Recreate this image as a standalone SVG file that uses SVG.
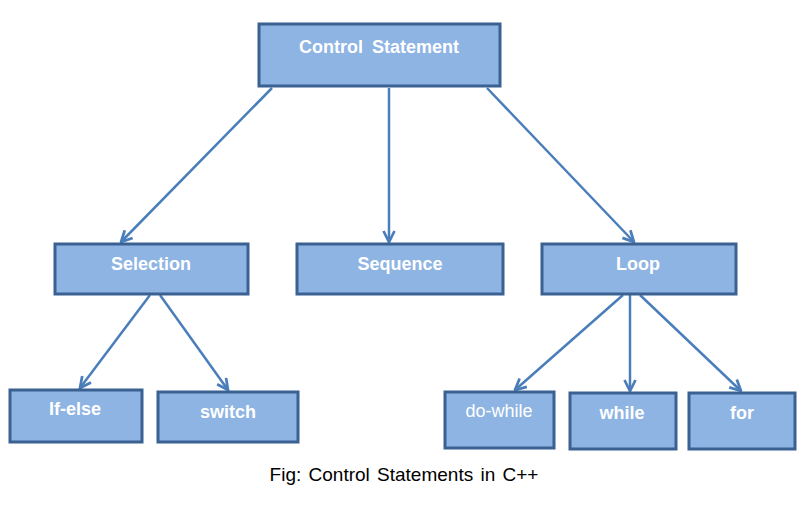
<svg xmlns="http://www.w3.org/2000/svg" width="807" height="505" viewBox="0 0 807 505">
<defs>
<style>
.box{fill:#8EB4E3;stroke:#3B6192;stroke-width:3;}
.t{font-family:"Liberation Sans",Arial,sans-serif;font-size:18px;font-weight:bold;fill:#FFFFFF;text-anchor:middle;}
.tn{font-family:"Liberation Sans",Arial,sans-serif;font-size:18px;fill:#FFFFFF;text-anchor:middle;}
.c{stroke:#4A7EBB;stroke-width:2.5;fill:none;marker-end:url(#ah);}
.cap{font-family:"Liberation Sans",Arial,sans-serif;font-size:19px;fill:#000000;text-anchor:middle;}
</style>
<marker id="ah" viewBox="0 0 10 10" refX="9" refY="5" markerWidth="5.5" markerHeight="5.5" orient="auto" markerUnits="strokeWidth">
<path d="M1,1 L9,5 L1,9" fill="none" stroke="#4A7EBB" stroke-width="2"/>
</marker>
</defs>
<rect width="807" height="505" fill="#FFFFFF"/>
<g id="connectors">
<line class="c" x1="272" y1="88" x2="121" y2="242"/>
<line class="c" x1="389" y1="88" x2="389" y2="242"/>
<line class="c" x1="487" y1="88" x2="634" y2="242"/>
<line class="c" x1="150" y1="295" x2="80" y2="388"/>
<line class="c" x1="160" y1="295" x2="228" y2="390"/>
<line class="c" x1="623" y1="295" x2="515" y2="390"/>
<line class="c" x1="630" y1="295" x2="630" y2="391"/>
<line class="c" x1="640" y1="295" x2="741" y2="391"/>
</g>
<g id="control"><rect class="box" x="259" y="24" width="241" height="62"/><text class="t" x="379" y="53" word-spacing="4">Control Statement</text></g>
<g id="selection"><rect class="box" x="55" y="244" width="193" height="50"/><text class="t" x="151" y="270">Selection</text></g>
<g id="sequence"><rect class="box" x="297" y="244" width="206" height="50"/><text class="t" x="400" y="270">Sequence</text></g>
<g id="loop"><rect class="box" x="542" y="244" width="194" height="50"/><text class="t" x="638" y="270">Loop</text></g>
<g id="ifelse"><rect class="box" x="10" y="390" width="132" height="52"/><text class="t" x="75" y="415">If-else</text></g>
<g id="switch"><rect class="box" x="158" y="392" width="140" height="50"/><text class="t" x="228" y="418">switch</text></g>
<g id="dowhile"><rect class="box" x="445" y="392" width="109" height="56"/><text class="tn" x="499" y="417">do-while</text></g>
<g id="while"><rect class="box" x="570" y="393" width="106" height="56"/><text class="t" x="622" y="419">while</text></g>
<g id="for"><rect class="box" x="689" y="393" width="106" height="56"/><text class="t" x="742" y="419">for</text></g>
<text class="cap" x="404" y="481" word-spacing="2">Fig: Control Statements in C++</text>
</svg>
